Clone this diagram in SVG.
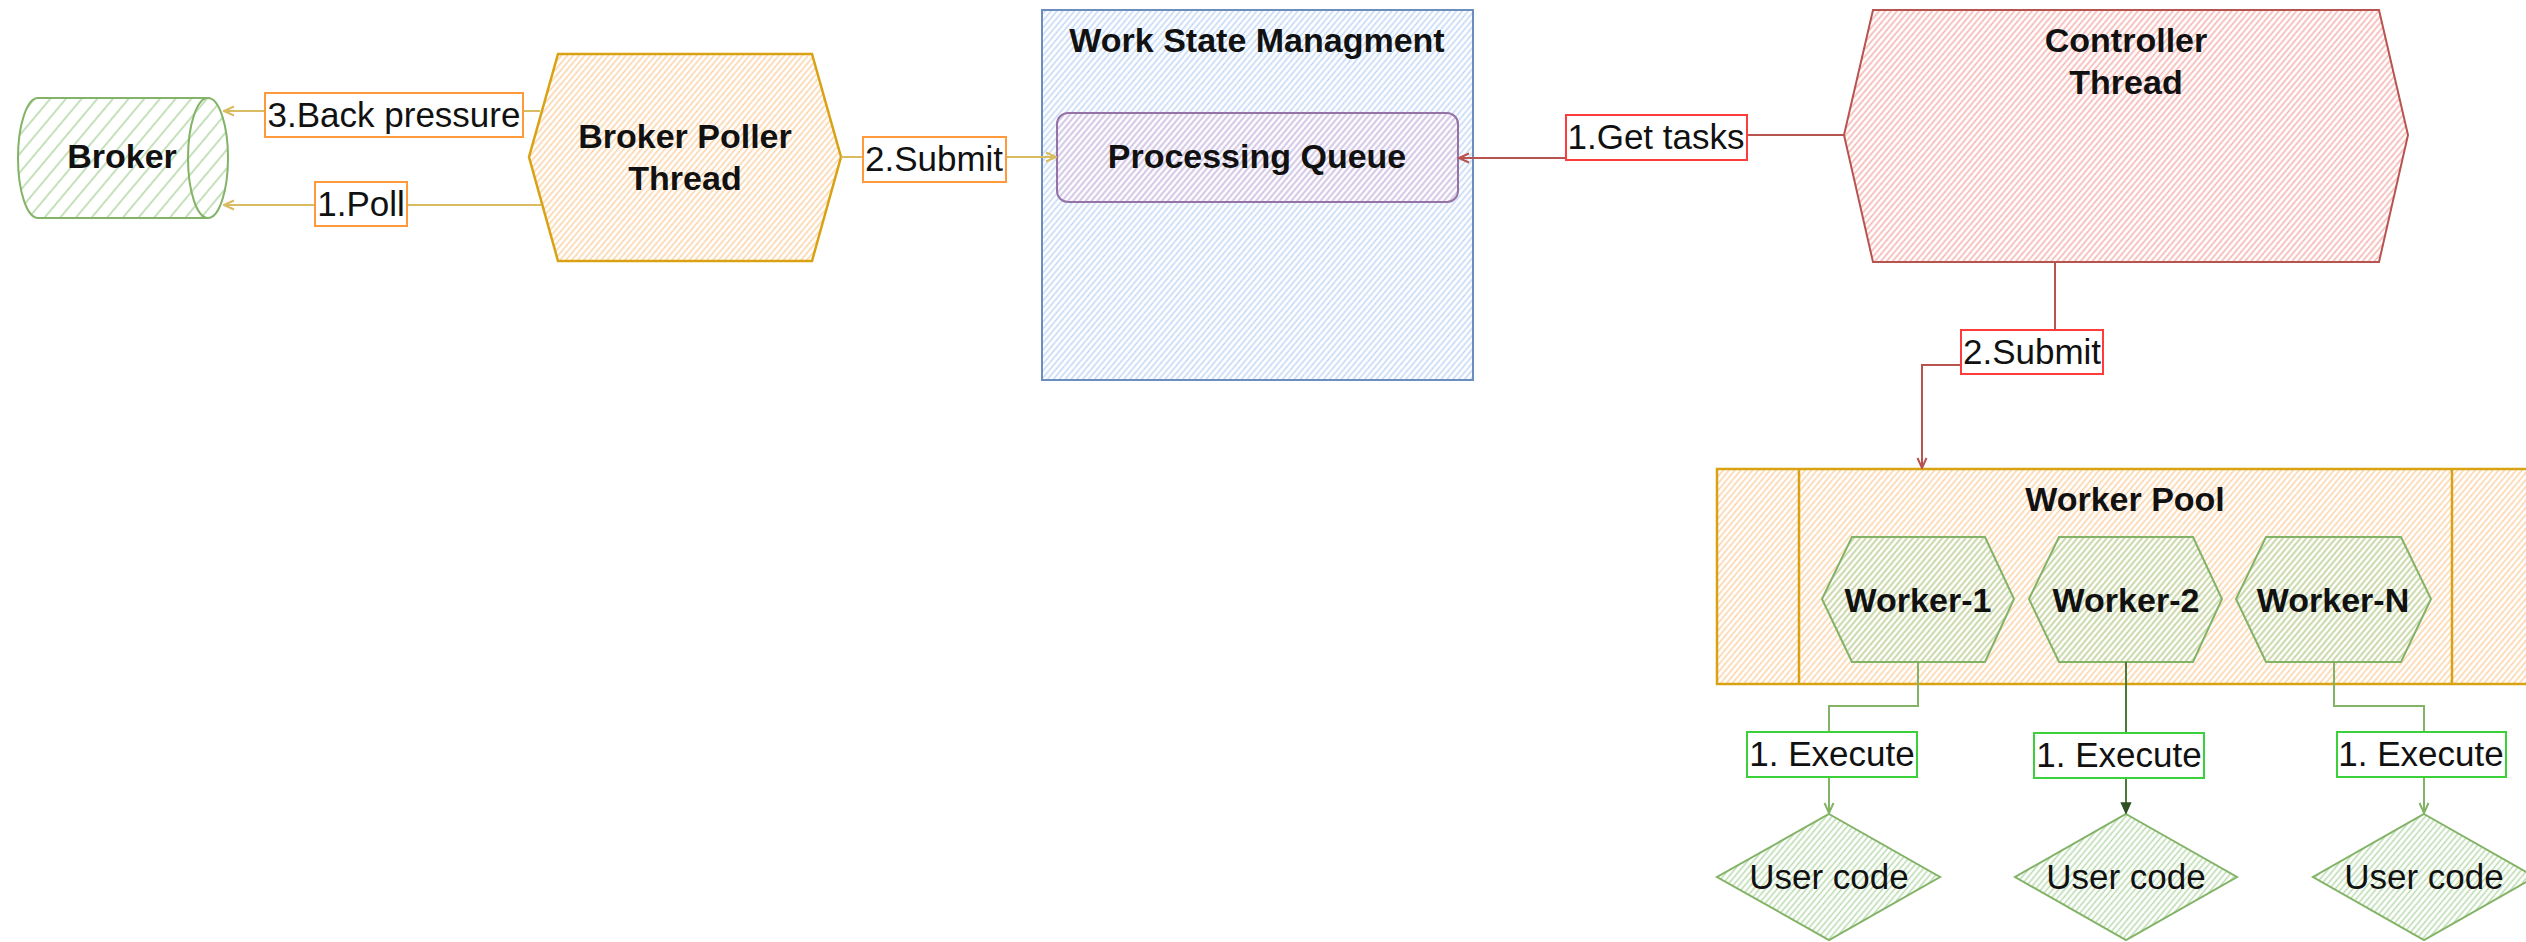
<svg xmlns="http://www.w3.org/2000/svg" width="2526" height="942" viewBox="0 0 2526 942">
  <style>
    text { font-family: "Liberation Sans", Arial, Helvetica, sans-serif; fill: #111; }
    .title { font-size: 34px; font-weight: bold; text-anchor: middle; }
    .lbl { font-size: 35px; text-anchor: middle; }
    .box-o { fill: #fff; stroke: #ff9a3c; stroke-width: 2; }
    .box-r { fill: #fff; stroke: #ff3b3b; stroke-width: 2; }
    .box-g { fill: #fff; stroke: #3ad13a; stroke-width: 2; }
    .edge { fill: none; stroke-width: 2; }
    .e-y { stroke: #d9bb62; }
    .e-r { stroke: #b85450; }
    .e-g { stroke: #82b366; }
    .e-dg { stroke: #4a7a38; }
    .n-green { stroke: #82b366; stroke-width: 2; }
    .n-orange { stroke: #d9a212; stroke-width: 2.5; }
    .n-blue { stroke: #6c8ebf; stroke-width: 2; }
    .n-red { stroke: #b85450; stroke-width: 2; }
    .n-purple { stroke: #9673a6; stroke-width: 2; }
  </style>
  <defs>
    <!-- hachure fills -->
    <pattern id="hGreenWide" width="12" height="12" patternUnits="userSpaceOnUse" patternTransform="rotate(40)">
      <line x1="6" y1="0" x2="6" y2="12" stroke="#bfdeb5" stroke-width="1.8"/>
    </pattern>
    <pattern id="hGreen" width="4.5" height="4.5" patternUnits="userSpaceOnUse" patternTransform="rotate(40)">
      <line x1="2.25" y1="0" x2="2.25" y2="4.5" stroke="#b8daad" stroke-width="1.5"/>
    </pattern>
    <pattern id="hOrange" width="4.5" height="4.5" patternUnits="userSpaceOnUse" patternTransform="rotate(40)">
      <line x1="2.25" y1="0" x2="2.25" y2="4.5" stroke="#fbd1a4" stroke-width="1.5"/>
    </pattern>
    <pattern id="hBlue" width="4.5" height="4.5" patternUnits="userSpaceOnUse" patternTransform="rotate(40)">
      <line x1="2.25" y1="0" x2="2.25" y2="4.5" stroke="#c0d6f6" stroke-width="1.5"/>
    </pattern>
    <pattern id="hRed" width="4.5" height="4.5" patternUnits="userSpaceOnUse" patternTransform="rotate(40)">
      <line x1="2.25" y1="0" x2="2.25" y2="4.5" stroke="#f4b4b0" stroke-width="1.6"/>
    </pattern>
    <pattern id="hPurple" width="4.5" height="4.5" patternUnits="userSpaceOnUse" patternTransform="rotate(40)">
      <line x1="2.25" y1="0" x2="2.25" y2="4.5" stroke="#dac3e2" stroke-width="1.6"/>
    </pattern>

    <!-- open arrowheads -->
    <marker id="arrY" viewBox="0 0 12 12" refX="11" refY="6" markerWidth="12" markerHeight="12" markerUnits="userSpaceOnUse" orient="auto">
      <path d="M1,1.5 L11,6 L1,10.5" fill="none" stroke="#d9bb62" stroke-width="2"/>
    </marker>
    <marker id="arrR" viewBox="0 0 12 12" refX="11" refY="6" markerWidth="12" markerHeight="12" markerUnits="userSpaceOnUse" orient="auto">
      <path d="M1,1.5 L11,6 L1,10.5" fill="none" stroke="#b85450" stroke-width="2"/>
    </marker>
    <marker id="arrG" viewBox="0 0 12 12" refX="11" refY="6" markerWidth="12" markerHeight="12" markerUnits="userSpaceOnUse" orient="auto">
      <path d="M1,1.5 L11,6 L1,10.5" fill="none" stroke="#82b366" stroke-width="2"/>
    </marker>
    <marker id="arrDG" viewBox="0 0 12 12" refX="11" refY="6" markerWidth="12" markerHeight="12" markerUnits="userSpaceOnUse" orient="auto">
      <path d="M1,1.5 L11,6 L1,10.5 Z" fill="#2f4f24" stroke="#2f4f24" stroke-width="1.5"/>
    </marker>
  </defs>

  <!-- Nodes -->
  <g id="broker">
    <path class="n-green" fill="url(#hGreenWide)" stroke-width="3" d="M38,98 H208 A20,60 0 0 1 208,218 H38 A20,60 0 0 1 38,98 Z"/>
    <path class="n-green" fill="none" stroke-width="3" d="M208,98 A20,60 0 0 0 208,218"/>
    <text class="title" x="122" y="168">Broker</text>
  </g>

  <g id="broker-poller">
    <polygon class="n-orange" fill="url(#hOrange)" points="558,54 812,54 841,157 812,261 558,261 529,157"/>
    <text class="title" x="685" y="148">Broker Poller</text>
    <text class="title" x="685" y="190">Thread</text>
  </g>

  <g id="work-state">
    <rect class="n-blue" fill="url(#hBlue)" x="1042" y="10" width="431" height="370"/>
    <text class="title" x="1257" y="52">Work State Managment</text>
  </g>

  <g id="processing-queue">
    <rect class="n-purple" fill="url(#hPurple)" x="1057" y="113" width="401" height="89" rx="11" ry="11"/>
    <text class="title" x="1257" y="168">Processing Queue</text>
  </g>

  <g id="controller">
    <polygon class="n-red" fill="url(#hRed)" points="1873,10 2379,10 2408,135 2379,262 1873,262 1844,135"/>
    <text class="title" x="2126" y="52">Controller</text>
    <text class="title" x="2126" y="94">Thread</text>
  </g>

  <g id="worker-pool">
    <rect class="n-orange" fill="url(#hOrange)" x="1717" y="469" width="817" height="215"/>
    <line class="n-orange" x1="1799" y1="469" x2="1799" y2="684"/>
    <line class="n-orange" x1="2452" y1="469" x2="2452" y2="684"/>
    <text class="title" x="2125" y="511">Worker Pool</text>
  </g>

  <g id="worker-1">
    <polygon class="n-green" fill="url(#hGreen)" points="1852,537 1985,537 2014,599 1985,662 1852,662 1822,599"/>
    <text class="title" x="1918" y="612">Worker-1</text>
  </g>
  <g id="worker-2">
    <polygon class="n-green" fill="url(#hGreen)" points="2059,537 2193,537 2222,599 2193,662 2059,662 2029,599"/>
    <text class="title" x="2126" y="612">Worker-2</text>
  </g>
  <g id="worker-n">
    <polygon class="n-green" fill="url(#hGreen)" points="2266,537 2401,537 2431,599 2401,662 2266,662 2236,599"/>
    <text class="title" x="2333" y="612">Worker-N</text>
  </g>

  <g id="user-code-1">
    <polygon class="n-green" fill="url(#hGreen)" points="1829,814 1940,877 1829,940 1717,877"/>
    <text class="lbl" x="1829" y="889">User code</text>
  </g>
  <g id="user-code-2">
    <polygon class="n-green" fill="url(#hGreen)" points="2126,814 2237,877 2126,940 2015,877"/>
    <text class="lbl" x="2126" y="889">User code</text>
  </g>
  <g id="user-code-n">
    <polygon class="n-green" fill="url(#hGreen)" points="2424,814 2535,877 2424,940 2313,877"/>
    <text class="lbl" x="2424" y="889">User code</text>
  </g>

  <!-- Connectors with their labels -->
  <g id="connectors">
    <path class="edge e-y" d="M540,111 H224" marker-end="url(#arrY)"/>
    <rect class="box-o" x="265" y="93" width="258" height="44"/>
    <text class="lbl" x="394" y="127">3.Back pressure</text>

    <path class="edge e-y" d="M541,205 H224" marker-end="url(#arrY)"/>
    <rect class="box-o" x="315" y="182" width="92" height="44"/>
    <text class="lbl" x="361" y="216">1.Poll</text>

    <path class="edge e-y" d="M841,157 H1056" marker-end="url(#arrY)"/>
    <rect class="box-o" x="863" y="137" width="143" height="45"/>
    <text class="lbl" x="934" y="171">2.Submit</text>

    <path class="edge e-r" d="M1844,135 H1660 V158 H1459" marker-end="url(#arrR)"/>
    <rect class="box-r" x="1566" y="115" width="181" height="45"/>
    <text class="lbl" x="1656" y="149">1.Get tasks</text>

    <path class="edge e-r" d="M2055,262 V365 H1922 V468" marker-end="url(#arrR)"/>
    <rect class="box-r" x="1961" y="330" width="142" height="44"/>
    <text class="lbl" x="2032" y="364">2.Submit</text>

    <path class="edge e-g" d="M1918,662 V706 H1829 V813" marker-end="url(#arrG)"/>
    <rect class="box-g" x="1747" y="732" width="170" height="45"/>
    <text class="lbl" x="1832" y="766">1. Execute</text>

    <path class="edge e-dg" d="M2126,662 V813" marker-end="url(#arrDG)"/>
    <rect class="box-g" x="2034" y="733" width="170" height="45"/>
    <text class="lbl" x="2119" y="767">1. Execute</text>

    <path class="edge e-g" d="M2334,662 V706 H2424 V813" marker-end="url(#arrG)"/>
    <rect class="box-g" x="2337" y="732" width="169" height="45"/>
    <text class="lbl" x="2421" y="766">1. Execute</text>
  </g>
</svg>
